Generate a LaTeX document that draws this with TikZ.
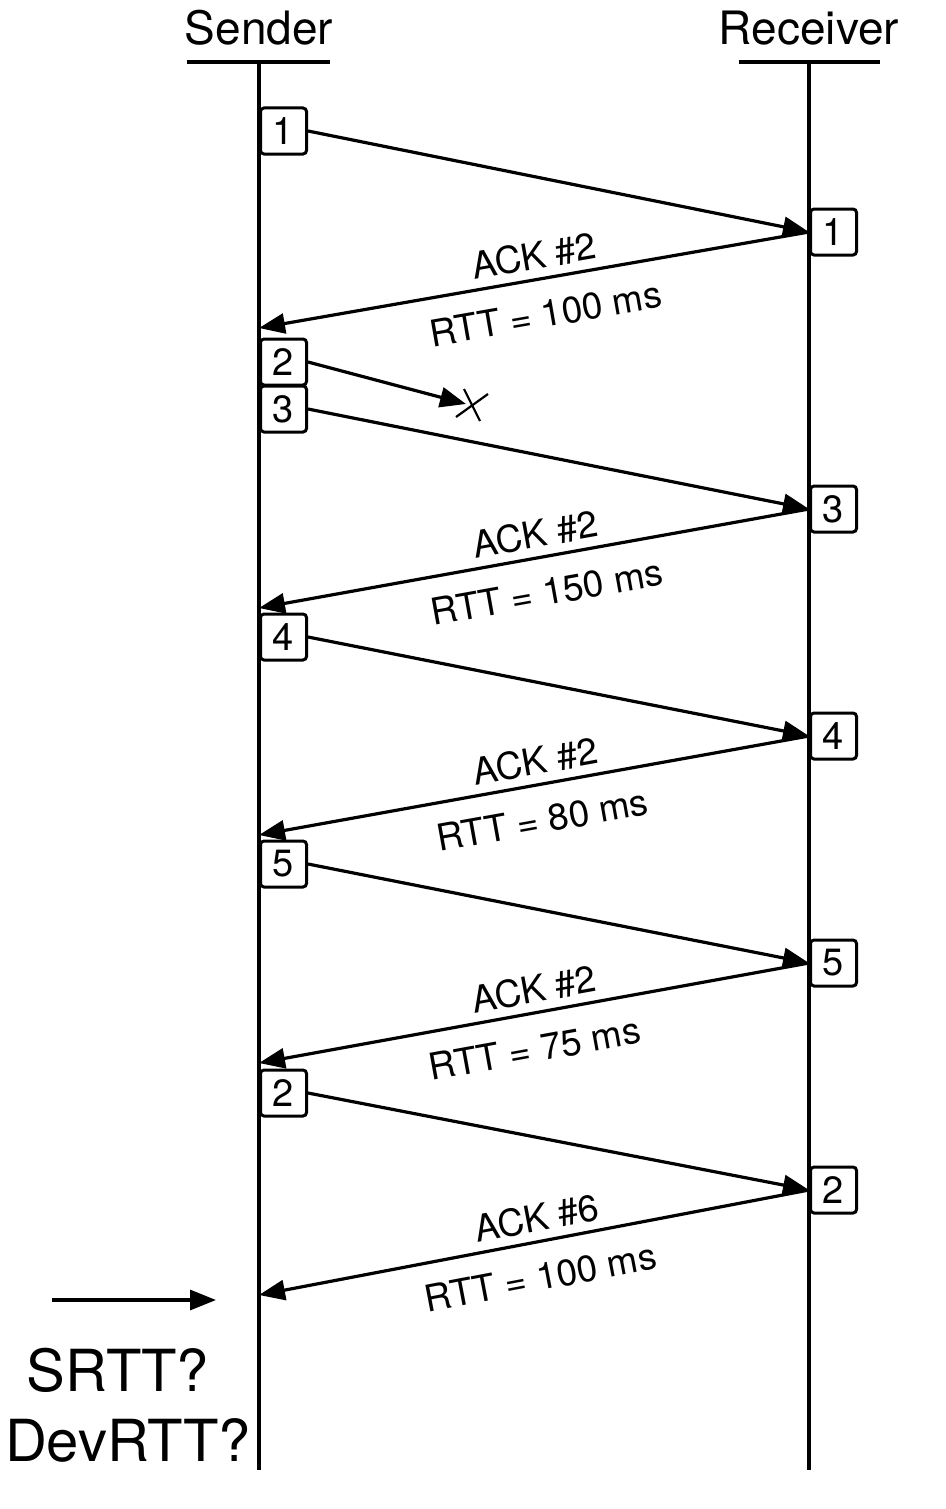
\documentclass[tikz,border=0pt]{standalone}
\usepackage{fontspec}
\setmainfont{TeX Gyre Heros}
\usetikzlibrary{arrows.meta,calc}
\begin{document}
\begin{tikzpicture}[x=1pt,y=-1pt,
  lifeline/.style={line width=3.6pt},
  headbar/.style={line width=4.5pt},
  pkt/.style={draw, line width=3pt, rounded corners=3.5pt, fill=white, minimum width=46pt, minimum height=46pt, inner sep=0pt, anchor=west, font=\fontsize{38}{38}\selectfont},
  msg/.style={line width=3.2pt, -{Triangle[length=26pt,width=20pt]}},
  lbl/.style={font=\fontsize{37}{37}\selectfont, sloped, inner sep=3pt},
  head/.style={font=\fontsize{46}{46}\selectfont, anchor=base},
  big/.style={font=\fontsize{58}{58}\selectfont}]
\useasboundingbox (0,0) rectangle (945,1509);

% headers
\node[head] (snd) at (259,45) {Sender};
\node[head] (rcv) at (809,45) {Receiver};
\coordinate (sb1) at (187,62); \coordinate (sb2) at (330,62);
\coordinate (rb1) at (739,62); \coordinate (rb2) at (880,62);
\draw[headbar] (sb1) -- (sb2);
\draw[headbar] (rb1) -- (rb2);

% lifelines
\coordinate (stop) at (259,62); \coordinate (sbot) at (259,1470);
\coordinate (rtop) at (809,62); \coordinate (rbot) at (809,1470);
\draw[lifeline] (stop) -- (sbot);
\draw[lifeline] (rtop) -- (rbot);

% sender packets
\node[pkt] (s1) at (259,131) {1};
\node[pkt] (s2) at (259,362) {2};
\node[pkt] (s3) at (259,409) {3};
\node[pkt] (s4) at (259,637) {4};
\node[pkt] (s5) at (259,864) {5};
\node[pkt] (s6) at (259,1093) {2};

% receiver packets
\node[pkt] (r1) at (809,232) {1};
\node[pkt] (r3) at (809,509) {3};
\node[pkt] (r4) at (809,736) {4};
\node[pkt] (r5) at (809,963) {5};
\node[pkt] (r6) at (809,1190) {2};

% ack arrival points on sender lifeline
\coordinate (a1) at (259,328);
\coordinate (a3) at (259,608);
\coordinate (a4) at (259,835);
\coordinate (a5) at (259,1063);
\coordinate (a6) at (259,1295);

% data messages
\draw[msg] (s1.east) -- (r1.west);
\draw[msg] (s3.east) -- (r3.west);
\draw[msg] (s4.east) -- (r4.west);
\draw[msg] (s5.east) -- (r5.west);
\draw[msg] (s6.east) -- (r6.west);

% lost packet
\coordinate (lost) at (466,404);
\coordinate (xc) at (472,405);
\draw[msg] (s2.east) -- (lost);
\draw[line width=2.2pt] ([shift={(-8,-16)}]xc) -- ([shift={(8,16)}]xc);
\draw[line width=2.2pt] ([shift={(-16,12)}]xc) -- ([shift={(16,-11)}]xc);

% acks
\draw[msg] (r1.west) -- node[lbl, above=5pt, pos=0.493]{ACK \#2} node[lbl, below=17pt, pos=0.49]{RTT = 100 ms} (a1);
\draw[msg] (r3.west) -- node[lbl, above=5pt, pos=0.49]{ACK \#2} node[lbl, below=17pt, pos=0.488]{RTT = 150 ms} (a3);
\draw[msg] (r4.west) -- node[lbl, above=5pt, pos=0.49]{ACK \#2} node[lbl, below=17pt, pos=0.496]{RTT = 80 ms} (a4);
\draw[msg] (r5.west) -- node[lbl, above=5pt, pos=0.493]{ACK \#2} node[lbl, below=17pt, pos=0.51]{RTT = 75 ms} (a5);
\draw[msg] (r6.west) -- node[lbl, above=5pt, pos=0.487]{ACK \#6} node[lbl, below=17pt, pos=0.50]{RTT = 100 ms} (a6);

% question
\coordinate (qa) at (52,1300); \coordinate (qb) at (216,1300);
\draw[msg] (qa) -- (qb);
\node[big] (srtt) at (118,1370) {SRTT?};
\node[big] (dev) at (128,1440) {DevRTT?};
\end{tikzpicture}
\end{document}
